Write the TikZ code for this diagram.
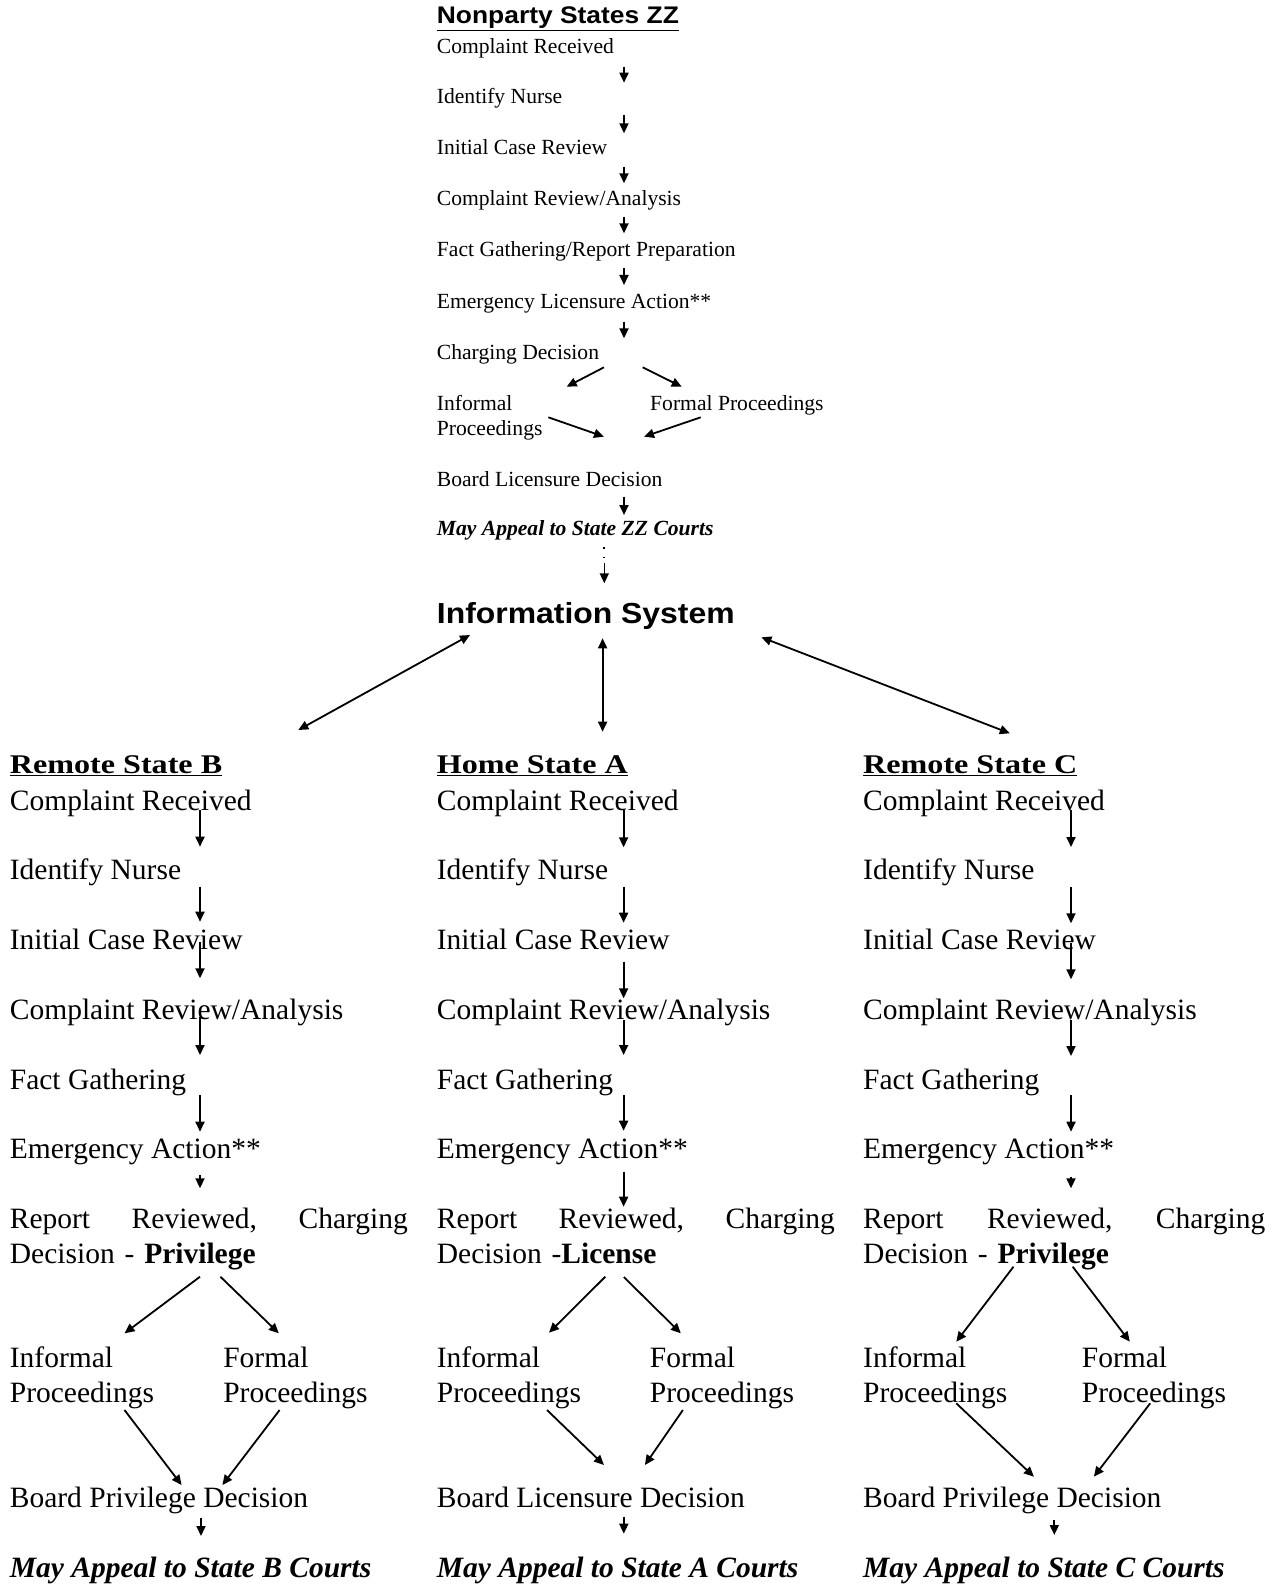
\documentclass[tikz,border=0pt]{standalone}
\usepackage{fontspec}
\setmainfont{Liberation Serif}
\newfontfamily\hdfont[FakeStretch=1.1]{Liberation Sans}
\newfontfamily\stfont[FakeStretch=1.19]{Liberation Serif}
\usetikzlibrary{arrows.meta}

\tikzset{
  ztext/.style={anchor=base west, inner sep=0pt, align=left, font=\fontsize{21.6}{25}\selectfont},
  stext/.style={anchor=base west, inner sep=0pt, align=left, font=\fontsize{29.5}{35.4}\selectfont},
  shead/.style={anchor=base west, inner sep=0pt, font=\stfont\bfseries\fontsize{27}{32}\selectfont},
  >={Triangle[length=10pt,width=9pt]}
}

\begin{document}
\begin{tikzpicture}[x=1pt,y=-1pt,line width=1.8pt]
  \useasboundingbox (0,0) rectangle (1277,1586);

  % Nonparty States ZZ
  \node[anchor=base west, inner sep=0pt, font=\hdfont\bfseries\fontsize{24}{28}\selectfont] (zz) at (436,24) {\underline{Nonparty States ZZ}};
  \node[ztext] (t1) at (436,53.3) {Complaint Received};
  \node[ztext] (t2) at (436,104) {Identify Nurse};
  \node[ztext] (t3) at (436,155) {Initial Case Review};
  \node[ztext] (t4) at (436,205.5) {Complaint Review/Analysis};
  \node[ztext] (t5) at (436,256.3) {Fact Gathering/Report Preparation};
  \node[ztext] (t6) at (436,308.3) {Emergency Licensure Action**};
  \node[ztext] (t7) at (436,359.3) {Charging Decision};
  \node[ztext,text width=110pt] (t8) at (436,410) {Informal\\Proceedings};
  \node[ztext] (t9) at (649.3,410) {Formal Proceedings};
  \node[ztext] (t10) at (436,486) {Board Licensure Decision};
  \node[ztext] (t11) at (436,535) {\textbf{\textit{May Appeal to State ZZ Courts}}};
  \coordinate (zx) at (624,0);
  \coordinate (dx) at (604.3,0);
  \draw[->,shorten <=13.4pt,shorten >=21.3pt] (t1.base -| zx) -- (t2.base -| zx);
  \draw[->,shorten <=11pt,shorten >=21.7pt] (t2.base -| zx) -- (t3.base -| zx);
  \draw[->,shorten <=11.7pt,shorten >=22.2pt] (t3.base -| zx) -- (t4.base -| zx);
  \draw[->,shorten <=11.2pt,shorten >=23pt] (t4.base -| zx) -- (t5.base -| zx);
  \draw[->,shorten <=12pt,shorten >=23.3pt] (t5.base -| zx) -- (t6.base -| zx);
  \draw[->,shorten <=13.4pt,shorten >=21pt] (t6.base -| zx) -- (t7.base -| zx);
  \draw[->] ([xshift=168pt,yshift=-8pt]t7.base west) -- ([xshift=130.7pt,yshift=23.3pt]t8.base west);
  \draw[->] ([xshift=206.7pt,yshift=-8pt]t7.base west) -- ([xshift=32.4pt,yshift=23.3pt]t9.base west);
  \draw[->] ([xshift=112.3pt,yshift=-7.3pt]t8.base west) -- ([xshift=168pt,yshift=49.3pt]t10.base west);
  \draw[->] ([xshift=51.4pt,yshift=-7.3pt]t9.base west) -- ([xshift=208pt,yshift=49.3pt]t10.base west);
  \draw[->,shorten <=10.7pt,shorten >=20pt] (t10.base -| zx) -- (t11.base -| zx);

  % Information System
  \node[anchor=base west, inner sep=0pt, font=\hdfont\bfseries\fontsize{29}{34}\selectfont] (is) at (436,623.5) {Information System};
  \draw[line width=1.8pt,dash pattern=on 1.8pt off 8pt,shorten <=11.7pt,shorten >=61pt] (t11.base -| dx) -- (is.base -| dx);
  \draw[line width=1.4pt,->,shorten <=28pt,shorten >=40.2pt] (t11.base -| dx) -- (is.base -| dx);

  % state headers
  \node[shead] (bh) at (9,773.3) {\underline{Remote State B}};
  \node[shead] (ah) at (436,773.3) {\underline{Home State A}};
  \node[shead] (ch) at (862.3,773.3) {\underline{Remote State C}};
  \coordinate (ix) at (602.6,0);
  \draw[<->] ([xshift=34pt,yshift=-11.5pt]is.base west) -- ([xshift=289.3pt,yshift=43.3pt]bh.base west);
  \draw[<->,shorten <=14.8pt,shorten >=41.6pt] (is.base -| ix) -- (ah.base -| ix);
  \draw[<->] ([xshift=325.4pt,yshift=-13.8pt]is.base west) -- ([xshift=147.5pt,yshift=40pt]ch.base west);

  % Remote State B
  \node[stext] (b1) at (9,810) {Complaint Received};
  \node[stext] (b2) at (9,879) {Identify Nurse};
  \node[stext] (b3) at (9,949) {Initial Case Review};
  \node[stext] (b4) at (9,1019) {Complaint Review/Analysis};
  \node[stext] (b5) at (9,1089) {Fact Gathering};
  \node[stext] (b6) at (9,1158.5) {Emergency Action**};
  \node[stext,text width=398pt] (b7) at (9,1228.3) {Report\hfill Reviewed,\hfill Charging\\Decision - \textbf{Privilege}};
  \node[stext,text width=200pt] (b8) at (9,1367.5) {Informal\\Proceedings};
  \node[stext,text width=180pt] (b9) at (222.4,1367.5) {Formal\\Proceedings};
  \node[stext] (b10) at (9,1507) {Board Privilege Decision};
  \node[stext] (b11) at (9,1577) {\textbf{\textit{May Appeal to State B Courts}}};
  \coordinate (bx) at (200,0);
  \draw[->,shorten >=32.3pt] (b1.base -| bx) -- (b2.base -| bx);
  \draw[->,shorten <=7.7pt,shorten >=27.3pt] (b2.base -| bx) -- (b3.base -| bx);
  \draw[->,shorten <=-7.3pt,shorten >=40.7pt] (b3.base -| bx) -- (b4.base -| bx);
  \draw[->,shorten <=-2.3pt,shorten >=34pt] (b4.base -| bx) -- (b5.base -| bx);
  \draw[->,shorten <=6pt,shorten >=26.8pt] (b5.base -| bx) -- (b6.base -| bx);
  \draw[->,shorten <=16.5pt,shorten >=40pt] (b6.base -| bx) -- (b7.base -| bx);
  \draw[->] ([xshift=191pt,yshift=-48.4pt]b7.base west) -- ([xshift=115.5pt,yshift=34.2pt]b8.base west);
  \draw[->] ([xshift=211.4pt,yshift=-48.4pt]b7.base west) -- ([xshift=56.4pt,yshift=34.2pt]b9.base west);
  \draw[->] ([xshift=115.5pt,yshift=-42.5pt]b8.base west) -- ([xshift=172.6pt,yshift=22pt]b10.base west);
  \draw[->] ([xshift=57.2pt,yshift=-42.5pt]b9.base west) -- ([xshift=213.4pt,yshift=22pt]b10.base west);
  \draw[->] ([xshift=192pt,yshift=-11.3pt]b10.base west) -- ([xshift=192pt,yshift=41pt]b11.base west);

  % Home State A
  \node[stext] (a1) at (436,810) {Complaint Received};
  \node[stext] (a2) at (436,879) {Identify Nurse};
  \node[stext] (a3) at (436,949) {Initial Case Review};
  \node[stext] (a4) at (436,1019) {Complaint Review/Analysis};
  \node[stext] (a5) at (436,1089) {Fact Gathering};
  \node[stext] (a6) at (436,1158.5) {Emergency Action**};
  \node[stext,text width=398pt] (a7) at (436,1228.3) {Report\hfill Reviewed,\hfill Charging\\Decision -\textbf{License}};
  \node[stext,text width=200pt] (a8) at (436,1367.5) {Informal\\Proceedings};
  \node[stext,text width=180pt] (a9) at (649,1367.5) {Formal\\Proceedings};
  \node[stext] (a10) at (436,1507) {Board Licensure Decision};
  \node[stext] (a11) at (436,1577) {\textbf{\textit{May Appeal to State A Courts}}};
  \coordinate (ax) at (623.6,0);
  \draw[->,shorten >=31.7pt] (a1.base -| ax) -- (a2.base -| ax);
  \draw[->,shorten <=7.7pt,shorten >=26.3pt] (a2.base -| ax) -- (a3.base -| ax);
  \draw[->,shorten <=12.7pt,shorten >=20.7pt] (a3.base -| ax) -- (a4.base -| ax);
  \draw[->,shorten <=1pt,shorten >=34pt] (a4.base -| ax) -- (a5.base -| ax);
  \draw[->,shorten <=6pt,shorten >=27.8pt] (a5.base -| ax) -- (a6.base -| ax);
  \draw[->,shorten <=13.2pt,shorten >=21.6pt] (a6.base -| ax) -- (a7.base -| ax);
  \draw[->] ([xshift=169.3pt,yshift=-48.4pt]a7.base west) -- ([xshift=113pt,yshift=34.8pt]a8.base west);
  \draw[->] ([xshift=187.8pt,yshift=-48.7pt]a7.base west) -- ([xshift=31.8pt,yshift=34.2pt]a9.base west);
  \draw[->] ([xshift=111pt,yshift=-42.5pt]a8.base west) -- ([xshift=168pt,yshift=42pt]a10.base west);
  \draw[->] ([xshift=33.9pt,yshift=-42.5pt]a9.base west) -- ([xshift=208.9pt,yshift=42pt]a10.base west);
  \draw[->] ([xshift=187.8pt,yshift=-9.6pt]a10.base west) -- ([xshift=187.8pt,yshift=43.3pt]a11.base west);

  % Remote State C
  \node[stext] (c1) at (862.3,810) {Complaint Received};
  \node[stext] (c2) at (862.3,879) {Identify Nurse};
  \node[stext] (c3) at (862.3,949) {Initial Case Review};
  \node[stext] (c4) at (862.3,1019) {Complaint Review/Analysis};
  \node[stext] (c5) at (862.3,1089) {Fact Gathering};
  \node[stext] (c6) at (862.3,1158.5) {Emergency Action**};
  \node[stext,text width=402pt] (c7) at (862.3,1228.3) {Report\hfill Reviewed,\hfill Charging\\Decision - \textbf{Privilege}};
  \node[stext,text width=200pt] (c8) at (862.3,1367.5) {Informal\\Proceedings};
  \node[stext,text width=180pt] (c9) at (1081,1367.5) {Formal\\Proceedings};
  \node[stext] (c10) at (862.3,1507) {Board Privilege Decision};
  \node[stext] (c11) at (862.3,1577) {\textbf{\textit{May Appeal to State C Courts}}};
  \coordinate (cx) at (1071,0);
  \draw[->,shorten >=32pt] (c1.base -| cx) -- (c2.base -| cx);
  \draw[->,shorten <=7.7pt,shorten >=25.7pt] (c2.base -| cx) -- (c3.base -| cx);
  \draw[->,shorten <=-5.7pt,shorten >=39.7pt] (c3.base -| cx) -- (c4.base -| cx);
  \draw[->,shorten <=1pt,shorten >=33pt] (c4.base -| cx) -- (c5.base -| cx);
  \draw[->,shorten <=6pt,shorten >=26.8pt] (c5.base -| cx) -- (c6.base -| cx);
  \draw[->,shorten <=18.2pt,shorten >=40pt] (c6.base -| cx) -- (c7.base -| cx);
  \draw[->] ([xshift=151.2pt,yshift=-38.4pt]c7.base west) -- ([xshift=94pt,yshift=25.8pt]c8.base west);
  \draw[->] ([xshift=210.4pt,yshift=-38.4pt]c7.base west) -- ([xshift=48.8pt,yshift=25.8pt]c9.base west);
  \draw[->] ([xshift=94pt,yshift=-35.8pt]c8.base west) -- ([xshift=171.6pt,yshift=30.3pt]c10.base west);
  \draw[->] ([xshift=69.2pt,yshift=-35.8pt]c9.base west) -- ([xshift=231.6pt,yshift=30.3pt]c10.base west);
  \draw[->] ([xshift=192pt,yshift=-13pt]c10.base west) -- ([xshift=192pt,yshift=42pt]c11.base west);
\end{tikzpicture}
\end{document}
